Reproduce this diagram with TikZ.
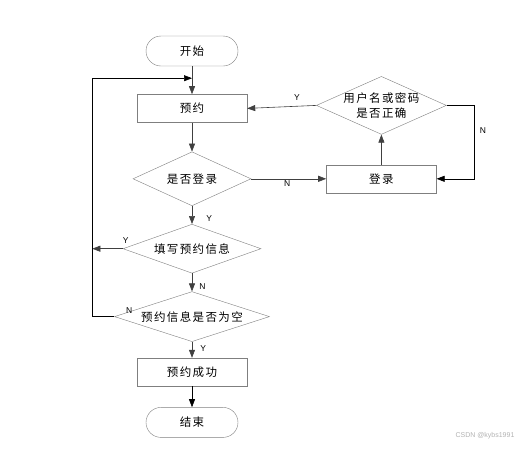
\documentclass[tikz,border=0pt]{standalone}
\usepackage{fontspec}
\setmainfont{Liberation Sans}
\newfontfamily\cjk[LetterSpace=12]{Noto Sans CJK SC}
\usetikzlibrary{arrows.meta,shapes.geometric,positioning}
\definecolor{boxgray}{HTML}{7F7F7F}
\definecolor{flowline}{HTML}{404040}

\begin{document}
\begin{tikzpicture}[
  every node/.style={font=\cjk\fontsize{11.5}{15}\selectfont},
  term/.style={rectangle, rounded corners=15pt, draw=boxgray, fill=white,
               minimum width=92pt, minimum height=30pt},
  proc/.style={rectangle, draw=boxgray, fill=white,
               minimum width=110pt, minimum height=28pt},
  dec/.style={diamond, draw=boxgray, fill=white, inner sep=0pt, align=center},
  arr/.style={-{Triangle[length=8pt, width=6pt]}, draw=flowline, line width=0.6pt},
  loop/.style={arr, draw=black},
  lbl/.style={font=\fontsize{8.5}{9}\selectfont, text=black, inner sep=2pt},
]
\useasboundingbox (0,0) rectangle (527pt,-448pt);

%% Main column
\node[term] (S) at (192pt,-51pt) {开始};
\node[proc, below=28pt of S] (B) {预约};
\node[dec, aspect=2.2, minimum width=118pt, minimum height=54pt, below=29pt of B] (D1) {是否登录};
\node[dec, aspect=2.8, minimum width=138pt, minimum height=49pt, below=18pt of D1] (F) {填写预约信息};
\node[dec, aspect=3.1, minimum width=155pt, minimum height=50pt, below=18pt of F] (E) {预约信息是否为空};
\node[proc, below=16pt of E] (OK) {预约成功};
\node[term, below=21pt of OK] (T) {结束};

%% Login branch
\node[proc, right=75pt of D1] (L) {登录};
\node[dec, aspect=2.24, inner sep=-5pt, minimum width=130pt, minimum height=58pt,
      above=30pt of L] (C) {用户名或密码\\是否正确};

%% Loop back points
\coordinate[below=12pt of S] (J);
\coordinate (LX) at ([xshift=-22pt]E.west);

%% Arrows
\draw[arr] (S) -- (B);
\draw[arr] (B) -- (D1);
\draw[arr] (D1) -- node[lbl, below, pos=0.48]{N} (L);
\draw[arr] (L) -- (C);
\draw[loop] (C.east) -- ++(28pt,0) |- node[lbl, right=3pt, pos=0.17]{N} (L.east);
\draw[arr] (C.west) -- node[lbl, above=3pt, pos=0.28]{Y} (B.east);
\draw[arr] (D1) -- node[lbl, right=12pt, pos=0.7]{Y} (F);
\draw[arr] (F) -- node[lbl, right=5pt, pos=0.72]{N} (E);
\draw[arr] (E) -- node[lbl, right=6pt, pos=0.44]{Y} (OK);
\draw[loop] (OK) -- (T);
\draw[arr] (F.west) -- node[lbl, above=3pt, pos=0, xshift=3pt]{Y} (F.west -| LX);
\draw[loop] (E.west) -- node[lbl, pos=0, xshift=15pt, yshift=6pt]{N} (LX) |- (J);

%% Watermark
\node[font=\fontsize{7}{8}\selectfont, text=gray!60] (W) at (485pt,-436pt) {CSDN @kybs1991};

\end{tikzpicture}
\end{document}
